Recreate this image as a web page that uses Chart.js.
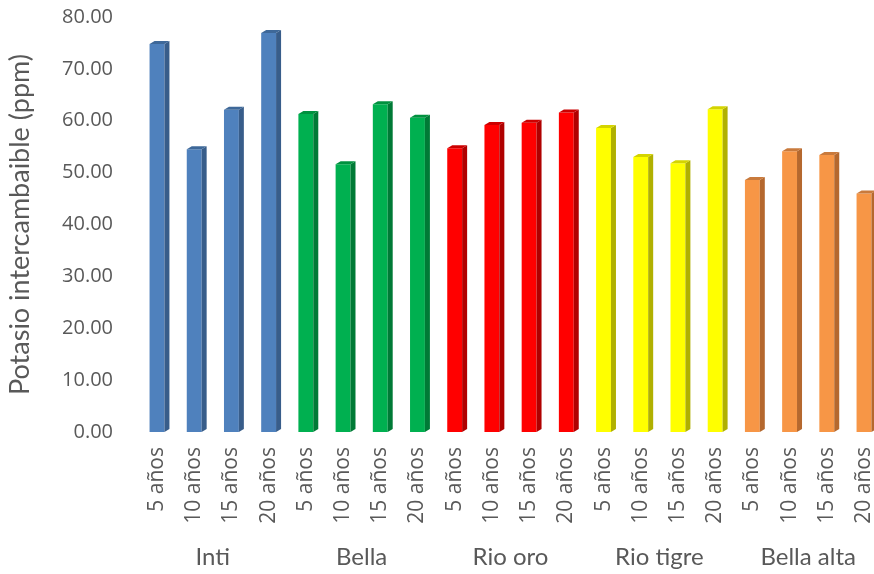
<!DOCTYPE html>
<html>
<head>
<meta charset="utf-8">
<script src="https://cdn.jsdelivr.net/npm/chart.js@4.4.1/dist/chart.umd.min.js"></script>
<style>
  html, body { margin: 0; padding: 0; background: #fff; }
  #wrap { width: 874px; height: 574px; }
</style>
</head>
<body>
<div id="wrap"><canvas id="chartK"></canvas></div>
<script>
// Data
const groups = ["Inti", "Bella", "Rio oro", "Rio tigre", "Bella alta"];
const ages = ["5 años", "10 años", "15 años", "20 años"];
const inti = [74.8, 54.5, 62.1, 76.9];
const bella = [61.3, 51.6, 63.2, 60.6];
const rioOro = [54.7, 59.2, 59.6, 61.6];
const rioTigre = [58.6, 53.0, 51.8, 62.2];
const bellaAlta = [48.6, 54.1, 53.4, 46.0];
const yTicks = [0, 10, 20, 30, 40, 50, 60, 70, 80];

// colours per group: front, side, top
const frontColors = ["#4F81BD", "#00B050", "#FF0000", "#FFFF00", "#F79646"];
const sideColors = ["#385D8A", "#007A36", "#B00000", "#B0B000", "#B5682E"];
const topColors = ["#3E6899", "#00913F", "#CC0000", "#D4D400", "#C97A3C"];

const series = [inti, bella, rioOro, rioTigre, bellaAlta];
let labels = [];
let values = [];
let barColors = [];
let groupOf = [];
series.forEach((arr, g) => {
  arr.forEach((v, i) => {
    labels.push(ages[i]);
    values.push(v);
    barColors.push(frontColors[g]);
    groupOf.push(g);
  });
});

// draws the side and top faces so bars look like the 3D columns
const depthPlugin = {
  id: "depth",
  afterDatasetsDraw(chart) {
    const ctx = chart.ctx;
    const dx = 5, dy = 3;
    const meta = chart.getDatasetMeta(0);
    meta.data.forEach((bar, i) => {
      const g = groupOf[i];
      const half = bar.width / 2;
      const l = bar.x - half, r = bar.x + half;
      ctx.save();
      ctx.fillStyle = sideColors[g];
      ctx.beginPath();
      ctx.moveTo(r, bar.y);
      ctx.lineTo(r + dx, bar.y - dy);
      ctx.lineTo(r + dx, bar.base - dy);
      ctx.lineTo(r, bar.base);
      ctx.closePath();
      ctx.fill();
      ctx.fillStyle = topColors[g];
      ctx.beginPath();
      ctx.moveTo(l, bar.y);
      ctx.lineTo(l + dx, bar.y - dy);
      ctx.lineTo(r + dx, bar.y - dy);
      ctx.lineTo(r, bar.y);
      ctx.closePath();
      ctx.fill();
      ctx.restore();
    });
  }
};

// group names under the rotated labels
const groupLabels = {
  id: "groupLabels",
  afterDraw(chart) {
    const ctx = chart.ctx;
    const x = chart.scales.x;
    ctx.save();
    ctx.font = "24px Lato";
    ctx.fillStyle = "#595959";
    ctx.textAlign = "center";
    ctx.textBaseline = "middle";
    groups.forEach((name, g) => {
      const a = x.getPixelForValue(g * ages.length);
      const b = x.getPixelForValue(g * ages.length + ages.length - 1);
      ctx.fillText(name, (a + b) / 2, 557);
    });
    ctx.restore();
  }
};

new Chart(document.getElementById("chartK"), {
  type: "bar",
  data: {
    labels: labels,
    datasets: [{
      data: values,
      backgroundColor: barColors,
      barPercentage: 0.4,
      categoryPercentage: 1.0,
      clip: false
    }]
  },
  options: {
    responsive: true,
    maintainAspectRatio: false,
    animation: false,
    layout: { padding: { top: 17, right: 10, left: 0, bottom: 0 } },
    plugins: { legend: { display: false }, tooltip: { enabled: false } },
    scales: {
      x: {
        offset: false,
        grid: { display: false, drawTicks: false, offset: false },
        border: { display: false },
        afterFit: s => {
          s.height = 142;
          s.paddingLeft = 0;
          s.paddingRight = 0;
        },
        ticks: {
          autoSkip: false,
          maxRotation: 90,
          minRotation: 90,
          padding: 15,
          color: "#595959",
          font: { family: "Open Sans", size: 21 }
        }
      },
      y: {
        min: 0,
        max: 80,
        grid: { display: false, drawTicks: false },
        border: { display: false },
        afterFit: s => {
          s.width = 157;
          s.paddingTop = 0;
          s.paddingBottom = 0;
        },
        afterBuildTicks: s => { s.ticks = yTicks.map(v => ({ value: v })); },
        ticks: {
          padding: 44,
          color: "#595959",
          font: { family: "Open Sans", size: 20 },
          callback: v => Number(v).toFixed(2)
        },
        title: {
          display: true,
          text: "Potasio intercambaible (ppm)",
          color: "#595959",
          font: { family: "Lato", size: 27 },
          padding: { top: 4, bottom: 0 }
        }
      }
    }
  },
  plugins: [depthPlugin, groupLabels]
});
</script>
</body>
</html>
